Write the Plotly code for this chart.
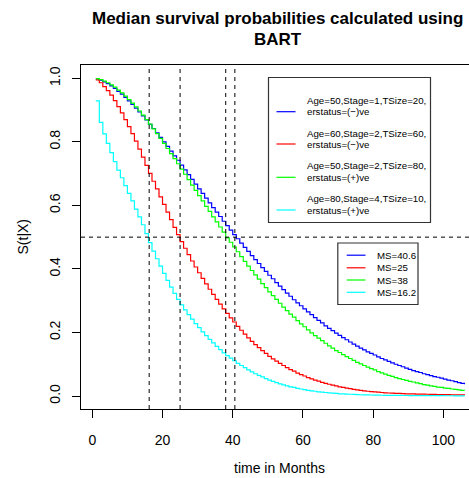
import plotly.graph_objects as go

# ---------------- data ----------------
months = list(range(1, 107))

s_blue = [
    .998, .994, .989, .983, .976, .968, .959, .950, .940, .929,
    .918, .906, .894, .882, .869, .855, .842, .828, .814, .800,
    .786, .771, .756, .742, .727, .712, .697, .682, .667, .652,
    .638, .623, .608, .593, .579, .565, .550, .536, .522, .508,
    .495, .481, .468, .455, .442, .429, .417, .404, .392, .380,
    .369, .357, .346, .335, .324, .314, .303, .293, .284, .274,
    .265, .256, .247, .238, .230, .221, .213, .206, .198, .191,
    .184, .177, .170, .163, .157, .151, .145, .139, .134, .129,
    .123, .118, .114, .109, .104, .100, .096, .092, .088, .084,
    .080, .077, .074, .070, .067, .064, .061, .059, .056, .053,
    .050, .048, .045, .042, .040, .037]

s_red = [
    .995, .986, .974, .961, .947, .930, .911, .891, .870, .848,
    .826, .802, .777, .752, .726, .701, .676, .652, .627, .603,
    .579, .555, .531, .508, .486, .465, .445, .425, .406, .388,
    .370, .353, .336, .320, .304, .289, .274, .260, .246, .233,
    .219, .207, .195, .183, .172, .162, .152, .143, .134, .125,
    .117, .110, .103, .096, .089, .083, .078, .072, .067, .063,
    .058, .054, .050, .047, .043, .040, .037, .034, .032, .029,
    .027, .025, .023, .021, .019, .018, .016, .015, .014, .013,
    .012, .011, .010, .0095, .009, .0085, .008, .0075, .007, .0068,
    .0065, .0062, .006, .0057, .0055, .0052, .005, .0048, .0046, .0044,
    .0042, .004, .0038, .0036, .0035, .0034]

s_green = [
    .999, .996, .991, .986, .979, .972, .963, .954, .944, .933,
    .922, .910, .897, .884, .870, .856, .841, .826, .811, .795,
    .779, .763, .747, .731, .714, .698, .681, .664, .647, .631,
    .614, .597, .581, .564, .548, .532, .516, .498, .484, .469,
    .454, .439, .424, .409, .395, .381, .368, .354, .341, .328,
    .316, .304, .292, .280, .269, .258, .248, .237, .227, .218,
    .208, .199, .190, .182, .174, .166, .158, .151, .143, .137,
    .130, .124, .118, .112, .106, .101, .096, .091, .086, .082,
    .077, .073, .069, .065, .062, .058, .055, .052, .049, .046,
    .044, .041, .039, .036, .034, .032, .030, .028, .027, .025,
    .024, .022, .021, .019, .018, .017]

s_cyan = [
    .929, .861, .825, .795, .766, .738, .711, .687, .662, .638,
    .614, .588, .564, .539, .511, .483, .456, .432, .409, .386,
    .364, .343, .323, .304, .287, .271, .256, .242, .228, .215,
    .202, .190, .178, .167, .156, .146, .136, .127, .119, .111,
    .103, .096, .089, .082, .076, .070, .065, .060, .055, .050,
    .046, .042, .038, .035, .032, .029, .027, .024, .022, .020,
    .018, .016, .015, .013, .012, .011, .010, .009, .008, .007,
    .0065, .006, .0055, .005, .0045, .004, .0037, .0034, .0031, .0028,
    .0026, .0024, .0022, .002, .0019, .0018, .0017, .0016, .0015, .0014,
    .0013, .0012, .0012, .0011, .0011, .001, .001, .0009, .0009, .0008,
    .0008, .0008, .0007, .0007, .0007, .0006]

medians = [40.6, 25, 38, 16.2]
median_level = 0.5

legend1_line1 = ["Age=50,Stage=1,TSize=20,", "Age=60,Stage=2,TSize=60,",
                 "Age=50,Stage=2,TSize=80,", "Age=80,Stage=4,TSize=10,"]
legend1_line2 = ["erstatus=(\u2212)ve", "erstatus=(\u2212)ve",
                 "erstatus=(+)ve", "erstatus=(+)ve"]
legend2_labels = ["MS=40.6", "MS=25", "MS=38", "MS=16.2"]

x_ticks = [0, 20, 40, 60, 80, 100]
y_ticks = [0.0, 0.2, 0.4, 0.6, 0.8, 1.0]

title_lines = ["Median survival probabilities calculated using", "BART"]
x_title = "time in Months"
y_title = "S(t|X)"

colors = ["#0000FF", "#FF0000", "#00FF00", "#00FFFF"]
series = [s_blue, s_red, s_green, s_cyan]

# ---------------- layout geometry (pixels) ----------------
W, H = 469, 478
L, R, T, B = 81, 0, 65, 69
PW, PH = W - L - R, H - T - B
FONT = "Liberation Sans, Arial, Helvetica, sans-serif"


def px(xp):
    return (xp - L) / PW


def py(yp):
    return (H - B - yp) / PH


fig = go.Figure()
for s, c in zip(series, colors):
    fig.add_trace(go.Scatter(x=months, y=s, mode="lines",
                             line=dict(color=c, width=1.2, shape="hv"),
                             showlegend=False, hoverinfo="skip"))

shapes = []
dash = "4px,4px"
for m in medians:
    shapes.append(dict(type="line", xref="x", yref="paper", x0=m, x1=m, y0=0, y1=1,
                       line=dict(color="black", width=1, dash=dash)))
shapes.append(dict(type="line", xref="paper", yref="y", x0=0, x1=1,
                   y0=median_level, y1=median_level,
                   line=dict(color="black", width=1, dash=dash)))

annotations = []
# legend 1
shapes.append(dict(type="rect", xref="paper", yref="paper",
                   x0=px(268.5), x1=px(430.5), y0=py(222.5), y1=py(77.5),
                   fillcolor="white", line=dict(color="#333333", width=1.2)))
l1_rows = [(100.7, 111.7), (133.3, 144.0), (165.7, 177.3), (198.3, 210.0)]
for (y1, y2), c, t1, t2 in zip(l1_rows, colors, legend1_line1, legend1_line2):
    shapes.append(dict(type="line", xref="paper", yref="paper",
                       x0=px(276.5), x1=px(295.5), y0=py(y2), y1=py(y2),
                       line=dict(color=c, width=1.2)))
    for yy, tt in ((y1, t1), (y2, t2)):
        annotations.append(dict(x=px(305), y=py(yy), xref="paper", yref="paper",
                                text=tt, showarrow=False, xanchor="left",
                                yanchor="middle",
                                font=dict(family=FONT, size=9.7, color="black")))
# legend 2
shapes.append(dict(type="rect", xref="paper", yref="paper",
                   x0=px(337.8), x1=px(418), y0=py(304.5), y1=py(243),
                   fillcolor="white", line=dict(color="#333333", width=1.2)))
l2_rows = [255.2, 267.8, 280.0, 292.3]
for yy, c, t in zip(l2_rows, colors, legend2_labels):
    shapes.append(dict(type="line", xref="paper", yref="paper",
                       x0=px(346.7), x1=px(365.5), y0=py(yy), y1=py(yy),
                       line=dict(color=c, width=1.2)))
    annotations.append(dict(x=px(375), y=py(yy), xref="paper", yref="paper",
                            text=t, showarrow=False, xanchor="left",
                            yanchor="middle",
                            font=dict(family=FONT, size=9.7, color="black")))

# titles
for yy, t in zip((19, 39), title_lines):
    annotations.append(dict(x=px(277.5), y=py(yy), xref="paper", yref="paper",
                            text="<b>" + t + "</b>", showarrow=False,
                            xanchor="center", yanchor="middle",
                            font=dict(family=FONT, size=17, color="black")))
annotations.append(dict(x=px(279), y=py(468), xref="paper", yref="paper",
                        text=x_title, showarrow=False, xanchor="center",
                        yanchor="middle",
                        font=dict(family=FONT, size=14, color="black")))
annotations.append(dict(x=px(22.5), y=py(237), xref="paper", yref="paper",
                        text=y_title, showarrow=False, xanchor="center",
                        yanchor="middle", textangle=-90,
                        font=dict(family=FONT, size=14, color="black")))

x0_val = (L - 92.3) / 3.511
x1_val = (W - 92.3) / 3.511
y0_val = -13.0 / 317.7
y1_val = 1.0 + 13.3 / 317.7

fig.update_layout(
    width=W, height=H, autosize=False,
    margin=dict(l=L, r=R, t=T, b=B, pad=0),
    paper_bgcolor="white", plot_bgcolor="white",
    shapes=shapes, annotations=annotations,
    font=dict(family=FONT, size=14, color="black"),
    xaxis=dict(range=[x0_val, x1_val], tickmode="array", tickvals=x_ticks,
               ticktext=[str(v) for v in x_ticks],
               ticks="outside", ticklen=8, tickwidth=1, tickcolor="black",
               showline=True, linecolor="black", linewidth=1, mirror=True,
               showgrid=False, zeroline=False, ticklabelstandoff=10,
               tickfont=dict(family=FONT, size=14, color="black")),
    yaxis=dict(range=[y0_val, y1_val], tickmode="array", tickvals=y_ticks,
               ticktext=["%.1f" % v for v in y_ticks],
               ticks="outside", ticklen=8, tickwidth=1, tickcolor="black",
               showline=True, linecolor="black", linewidth=1, mirror=False,
               showgrid=False, zeroline=False, tickangle=-90,
               ticklabelstandoff=6,
               tickfont=dict(family=FONT, size=14, color="black")),
)

fig.write_html("out.html")
